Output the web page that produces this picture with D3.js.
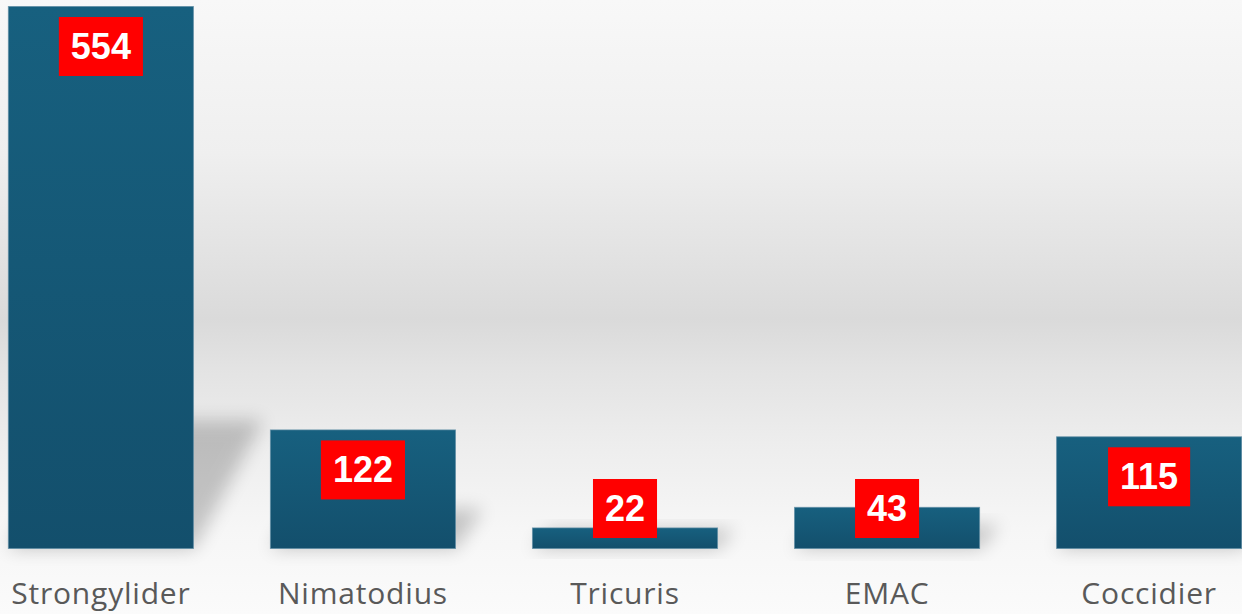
<!DOCTYPE html>
<html>
<head>
<meta charset="utf-8">
<script src="https://cdn.jsdelivr.net/npm/d3@7"></script>
<style>
  html, body { margin: 0; padding: 0; background: #fff; }
  svg { display: block; }
</style>
</head>
<body>
<svg id="chart" width="1242" height="614"></svg>
<script>
const categories = ["Strongylider", "Nimatodius", "Tricuris", "EMAC", "Coccidier"];
const values = [554, 122, 22, 43, 115];
const valueLabels = ["554", "122", "22", "43", "115"];

const W = 1242, H = 614;
const svg = d3.select("#chart");
const defs = svg.append("defs");

const bg = defs.append("linearGradient").attr("id", "bg").attr("x1", 0).attr("y1", 0).attr("x2", 0).attr("y2", 1);
[[0, "#f8f8f8"], [0.25, "#efefef"], [0.42, "#e2e2e2"], [0.52, "#dadada"], [0.6, "#e3e3e3"], [0.72, "#ededed"], [0.86, "#f6f6f6"], [1, "#fbfbfb"]]
  .forEach(([o, c]) => bg.append("stop").attr("offset", o).attr("stop-color", c));

const barGrad = defs.append("linearGradient").attr("id", "barGrad").attr("x1", 0).attr("y1", 0).attr("x2", 0).attr("y2", 1);
barGrad.append("stop").attr("offset", 0).attr("stop-color", "#17607f");
barGrad.append("stop").attr("offset", 1).attr("stop-color", "#134f6c");

const blur = defs.append("filter").attr("id", "blur").attr("x", "-50%").attr("y", "-50%").attr("width", "200%").attr("height", "200%");
blur.append("feGaussianBlur").attr("stdDeviation", 9);

svg.append("rect").attr("width", W).attr("height", H).attr("fill", "url(#bg)");

const x = d3.scaleBand().domain(categories).range([0, 1250]).paddingInner(0.29).paddingOuter(0.03);
const y = d3.scaleLinear().domain([0, 554]).range([549, 6]);

const data = categories.map((c, i) => ({ c, v: values[i], label: valueLabels[i] }));

// shadows
svg.append("g").selectAll("path").data(data).join("path")
  .attr("d", d => {
    const l = x(d.c), r = l + x.bandwidth(), b = y(0), h = y(0) - y(d.v);
    const sh = 15 + 0.21 * h, dx = 15 + 0.1 * h;
    return `M${l},${b}L${r},${b}L${r + dx},${b - sh}L${l + dx},${b - sh}Z`;
  })
  .attr("fill", "#000").attr("opacity", 0.2).attr("filter", "url(#blur)");

// bars
svg.append("g").selectAll("rect").data(data).join("rect")
  .attr("x", d => x(d.c) + 0.5)
  .attr("y", d => y(d.v) + 0.5)
  .attr("width", x.bandwidth() - 1)
  .attr("height", d => y(0) - y(d.v) - 1)
  .attr("fill", "url(#barGrad)")
  .attr("stroke", "#5b8aa3").attr("stroke-width", 1).attr("stroke-opacity", 0.7);

// value labels
const lg = svg.append("g").selectAll("g").data(data).join("g");
lg.each(function (d) {
  const g = d3.select(this);
  const cx = x(d.c) + x.bandwidth() / 2;
  const top = Math.min(y(d.v) + 11, y(0) - 70);
  const rect = g.append("rect").attr("fill", "#ff0000");
  const t = g.append("text").text(d.label)
    .attr("x", cx).attr("y", top + 29.5)
    .attr("text-anchor", "middle").attr("dominant-baseline", "central")
    .attr("font-family", "Liberation Sans, Arial, sans-serif")
    .attr("font-weight", "bold").attr("font-size", 36).attr("fill", "#fff");
  const tw = t.node().getComputedTextLength();
  rect.attr("x", cx - tw / 2 - 12).attr("y", top).attr("width", tw + 24).attr("height", 59);
});

// category axis labels
svg.append("g").selectAll("text").data(data).join("text")
  .attr("x", d => x(d.c) + x.bandwidth() / 2)
  .attr("y", 604)
  .attr("text-anchor", "middle")
  .attr("font-family", "Open Sans, sans-serif")
  .attr("font-size", 30)
  .attr("letter-spacing", 0.8)
  .attr("fill", "#595959")
  .text(d => d.c);
</script>
</body>
</html>
